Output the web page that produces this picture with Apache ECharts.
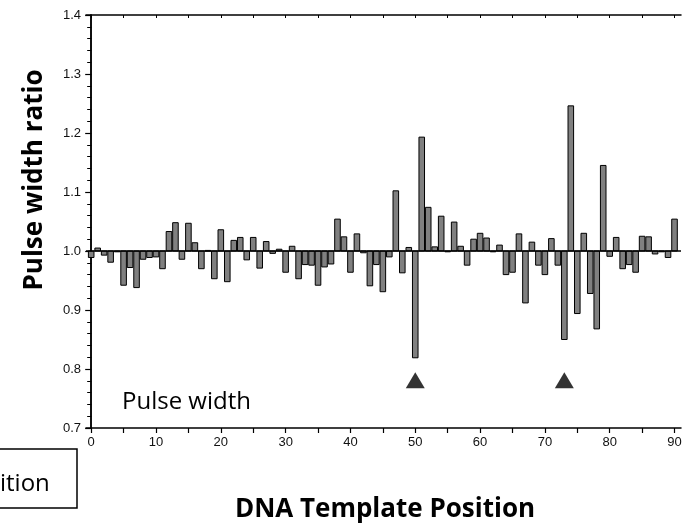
<!DOCTYPE html>
<html>
<head>
<meta charset="utf-8">
<script src="https://cdn.jsdelivr.net/npm/echarts@6/dist/echarts.min.js"></script>
<style>
  html, body { margin: 0; padding: 0; background: #fff; }
  #chart { width: 690px; height: 526px; }
</style>
</head>
<body>
<div id="chart"></div>
<script>
'use strict'

// template positions 0..90
var positions = [];
for (var p = 0; p <= 90; p++) positions.push(p);

// pulse width ratio
var ratios = [
  0.989, 1.005, 0.993, 0.981, 1.000, 0.942, 0.972, 0.938, 0.986, 0.989,
  0.990, 0.970, 1.033, 1.048, 0.986, 1.047, 1.014, 0.970, 1.001, 0.953,
  1.036, 0.948, 1.018, 1.023, 0.985, 1.023, 0.971, 1.016, 0.996, 1.003,
  0.964, 1.008, 0.953, 0.977, 0.976, 0.942, 0.973, 0.978, 1.054, 1.024,
  0.964, 1.029, 0.997, 0.941, 0.977, 0.931, 0.990, 1.102, 0.963, 1.006,
  0.819, 1.193, 1.074, 1.007, 1.059, 0.999, 1.049, 1.008, 0.976, 1.020,
  1.030, 1.022, 1.000, 1.010, 0.960, 0.964, 1.029, 0.912, 1.015, 0.976,
  0.960, 1.021, 0.976, 0.850, 1.246, 0.894, 1.030, 0.928, 0.868, 1.145,
  0.991, 1.023, 0.970, 0.977, 0.964, 1.025, 1.024, 0.995, 0.999, 0.989,
  1.054
];

// arrow markers under positions 50 and 73
var markerX = [50, 73];
var markerY = 0.781;

var baseline = 1.0;
var xLabels = [0, 10, 20, 30, 40, 50, 60, 70, 80, 90];
var xTicks = [0, 5, 10, 15, 20, 25, 30, 35, 40, 45, 50, 55, 60, 65, 70, 75, 80, 85, 90];

var barData = positions.map(function (x, i) { return [x, ratios[i]]; });
var markerData = markerX.map(function (x) { return [x, markerY]; });

var chart = echarts.init(document.getElementById('chart'), null, { renderer: 'canvas' });

var option = {
  animation: false,
  backgroundColor: '#fff',
  grid: { left: 86, right: 9, top: 15, bottom: 98, containLabel: false },
  xAxis: [{
    type: 'value', min: -0.8, max: 91,
    axisLine: { lineStyle: { color: '#000', width: 1.5 } },
    axisTick: { show: true, inside: false, length: 5, customValues: xTicks, lineStyle: { color: '#000', width: 1.2 } },
    axisLabel: { customValues: xLabels, color: '#111', fontFamily: 'Liberation Sans, Arial', fontSize: 13, margin: 8 },
    splitLine: { show: false }
  }, {
    type: 'value', position: 'top', min: -0.8, max: 91,
    axisLine: { lineStyle: { color: '#000', width: 1.5 } },
    axisTick: { show: true, inside: true, length: 3, customValues: xTicks, lineStyle: { color: '#000' } },
    axisLabel: { show: false },
    splitLine: { show: false }
  }],
  yAxis: [{
    type: 'value', min: 0.7, max: 1.4, interval: 0.1,
    axisLine: { show: true, lineStyle: { color: '#000', width: 1.5 } },
    axisTick: { show: true, inside: false, length: 6, lineStyle: { color: '#000', width: 1.2 } },
    minorTick: { show: true, splitNumber: 5, length: 4, lineStyle: { color: '#000' } },
    axisLabel: {
      color: '#111', fontFamily: 'Liberation Sans, Arial', fontSize: 13, margin: 5,
      formatter: function (v) { return v.toFixed(1); }
    },
    splitLine: { show: false }
  }, {
    type: 'value', position: 'right', min: 0.7, max: 1.4, interval: 0.1,
    axisLine: { show: true, lineStyle: { color: '#000', width: 1.5 } },
    axisTick: { show: true, inside: true, length: 3, lineStyle: { color: '#000' } },
    minorTick: { show: true, splitNumber: 5, length: 2, lineStyle: { color: '#000' } },
    axisLabel: { show: false },
    splitLine: { show: false }
  }],
  series: [{
    type: 'custom',
    data: barData,
    clip: true,
    renderItem: function (params, api) {
      var x = api.value(0);
      var top = api.coord([x, api.value(1)]);
      var base = api.coord([x, baseline]);
      var w = api.size([1, 0])[0] * 0.86;
      var y0 = Math.min(top[1], base[1]);
      var h = Math.abs(top[1] - base[1]);
      return {
        type: 'rect',
        shape: { x: top[0] - w / 2, y: y0, width: w, height: Math.max(h, 0.8) },
        style: { fill: '#808080', stroke: '#000', lineWidth: 1 }
      };
    },
    z: 2
  }, {
    type: 'line',
    data: [[-0.8, baseline], [91, baseline]],
    symbol: 'none',
    lineStyle: { color: '#000', width: 1.5 },
    z: 3,
    silent: true
  }, {
    type: 'scatter',
    data: markerData,
    symbol: 'triangle',
    symbolSize: [19, 16],
    itemStyle: { color: '#000' },
    z: 4
  }],
  graphic: [{
    type: 'text', left: 122, top: 390,
    style: { text: 'Pulse width', font: '24px "Open Sans", sans-serif', fill: '#000' }
  }, {
    type: 'text', x: 35, y: 180, rotation: Math.PI / 2,
    style: { text: 'Pulse width ratio', font: 'bold 26px "Open Sans", sans-serif', fill: '#000', align: 'center', verticalAlign: 'middle' }
  }, {
    type: 'text', x: 385, y: 510,
    style: { text: 'DNA Template Position', font: 'bold 26px "Open Sans", sans-serif', fill: '#000', align: 'center', verticalAlign: 'middle' }
  }, {
    type: 'rect', shape: { x: -2, y: 449, width: 79, height: 59 },
    style: { fill: '#fff', stroke: '#000', lineWidth: 1.5 }
  }, {
    type: 'text', x: 0, y: 484,
    style: { text: 'ition', font: '24px "Open Sans", sans-serif', fill: '#000', align: 'left', verticalAlign: 'middle' }
  }]
};

chart.setOption(option);
</script>
</body>
</html>
